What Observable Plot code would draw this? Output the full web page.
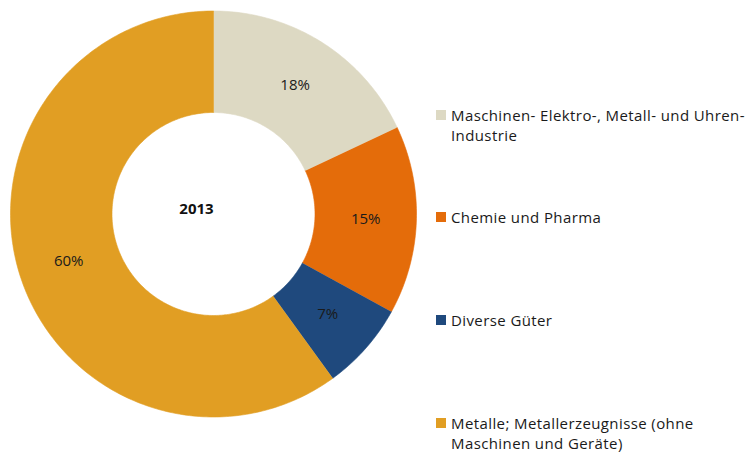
<!DOCTYPE html>
<html>
<head>
<meta charset="utf-8">
<script src="https://cdn.jsdelivr.net/npm/d3@7"></script>
<script src="https://cdn.jsdelivr.net/npm/@observablehq/plot@0.6"></script>
<style>
  html, body { margin: 0; padding: 0; background: #fff; }
  #wrap { position: relative; width: 747px; height: 455px; font-family: "Open Sans", sans-serif; }
  #legend { position: absolute; left: 436px; top: 0; width: 311px; height: 455px; font-size: 15px; letter-spacing: 0.4px; color: #1a1a1a; }
  .item { position: absolute; left: 0; display: flex; align-items: flex-start; line-height: 20px; white-space: nowrap; }
  .sw { width: 10px; height: 10px; margin-top: 5px; margin-right: 5px; flex: none; }
</style>
</head>
<body>
<div id="wrap"><div id="legend"></div></div>
<script>
const categories = [
  "Maschinen- Elektro-, Metall- und Uhren-\nIndustrie",
  "Chemie und Pharma",
  "Diverse Güter",
  "Metalle; Metallerzeugnisse (ohne\nMaschinen und Geräte)"
];
const shares = [18, 15, 7, 60];
const colors = ["#DDD9C3", "#E46C0A", "#1F497D", "#E19E23"];
const year = "2013";

const cx = 213, cy = 213.5, R = 203, innerRatio = 0.5;

const data = categories.map((c, i) => ({name: c, value: shares[i]}));
const arcs = d3.pie().sort(null).value(d => d.value)(data);

const pts = [];
const labels = [];
arcs.forEach(a => {
  const steps = Math.max(8, Math.ceil((a.endAngle - a.startAngle) * 60));
  for (let k = 0; k <= steps; k++) {
    const t = a.startAngle + (a.endAngle - a.startAngle) * k / steps;
    pts.push({name: a.data.name, x: Math.sin(t), y: Math.cos(t)});
  }
  for (let k = steps; k >= 0; k--) {
    const t = a.startAngle + (a.endAngle - a.startAngle) * k / steps;
    pts.push({name: a.data.name, x: innerRatio * Math.sin(t), y: innerRatio * Math.cos(t)});
  }
  const m = (a.startAngle + a.endAngle) / 2, rm = (1 + innerRatio) / 2;
  labels.push({text: a.data.value + "%", x: rm * Math.sin(m), y: rm * Math.cos(m)});
});

const chart = Plot.plot({
  width: 747,
  height: 455,
  margin: 0,
  x: {domain: [-1, 1], range: [cx - R, cx + R], axis: null},
  y: {domain: [-1, 1], range: [cy + R, cy - R], axis: null},
  color: {domain: categories, range: colors},
  style: {fontFamily: "Open Sans, sans-serif", background: "#fff"},
  marks: [
    Plot.line(pts, {x: "x", y: "y", z: "name", fill: "name", stroke: "name", strokeWidth: 0.6, curve: "linear"}),
    Plot.text(labels, {x: "x", y: "y", text: "text", fontSize: 15, fill: "#1a1a1a"}),
    Plot.text([year], {x: 0, y: 0, text: d => d, fontSize: 15, fontWeight: "bold", fill: "#111", dx: -17, dy: -5})
  ]
});
document.getElementById("wrap").prepend(chart);
chart.style.position = "absolute";
chart.style.left = "0";
chart.style.top = "0";

const legendTops = [105, 207, 310, 413];
const legend = document.getElementById("legend");
categories.forEach((c, i) => {
  const item = document.createElement("div");
  item.className = "item";
  item.style.top = legendTops[i] + "px";
  const sw = document.createElement("div");
  sw.className = "sw";
  sw.style.background = colors[i];
  const tx = document.createElement("div");
  tx.innerHTML = c.split("\n").join("<br>");
  item.append(sw, tx);
  legend.append(item);
});
</script>
</body>
</html>
